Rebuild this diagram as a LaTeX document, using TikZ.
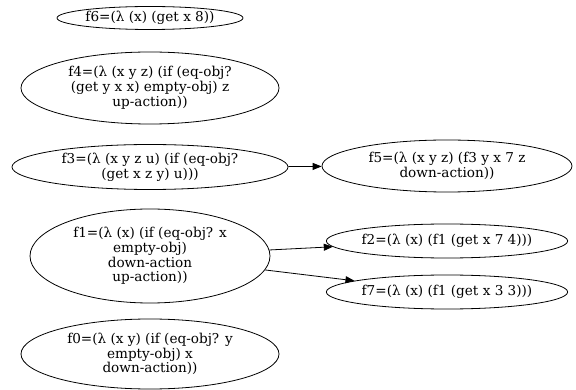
\documentclass[tikz,border=0pt]{standalone}
\usepackage{fontspec}
\setmainfont{DejaVu Serif}
\usetikzlibrary{shapes.geometric, arrows.meta}

\tikzset{
  fn/.style={draw, ellipse, align=center, inner sep=0pt, line width=0.8pt,
    font=\fontsize{13.6}{14.8}\selectfont},
  call/.style={-{Triangle[length=9pt, width=7pt]}, line width=0.8pt}
}

\begin{document}
\begin{tikzpicture}[x=1pt, y=-1pt]
\useasboundingbox (0,0) rectangle (576,390);

\node (f6) [fn, minimum width=186pt, minimum height=23pt] at (150,18)
{f6=(λ (x) (get x 8))};

\node (f4) [fn, minimum width=258pt, minimum height=72pt] at (150,88)
{f4=(λ (x y z) (if (eq-obj? \\ (get y x x) empty-obj) z \\ up-action))};

\node (f3) [fn, minimum width=276pt, minimum height=45pt] at (150,167)
{f3=(λ (x y z u) (if (eq-obj? \\ (get x z y) u)))};

\node (f1) [fn, minimum width=240pt, minimum height=94pt] at (150,256)
{f1=(λ (x) (if (eq-obj? x \\ empty-obj) \\ down-action \\ up-action))};

\node (f0) [fn, minimum width=258pt, minimum height=70pt] at (150,354)
{f0=(λ (x y) (if (eq-obj? y \\ empty-obj) x \\ down-action))};

\node (f5) [fn, minimum width=250pt, minimum height=52pt] at (447,166)
{f5=(λ (x y z) (f3 y x 7 z \\ down-action))};

\node (f2) [fn, minimum width=241pt, minimum height=34pt] at (447,241)
{f2=(λ (x) (f1 (get x 7 4)))};

\node (f7) [fn, minimum width=241pt, minimum height=34pt] at (447,292)
{f7=(λ (x) (f1 (get x 3 3)))};

\draw[call] (f3) -- (f5);
\draw[call] (f1) -- (f2);
\draw[call] (f1) -- (f7);

\end{tikzpicture}
\end{document}
